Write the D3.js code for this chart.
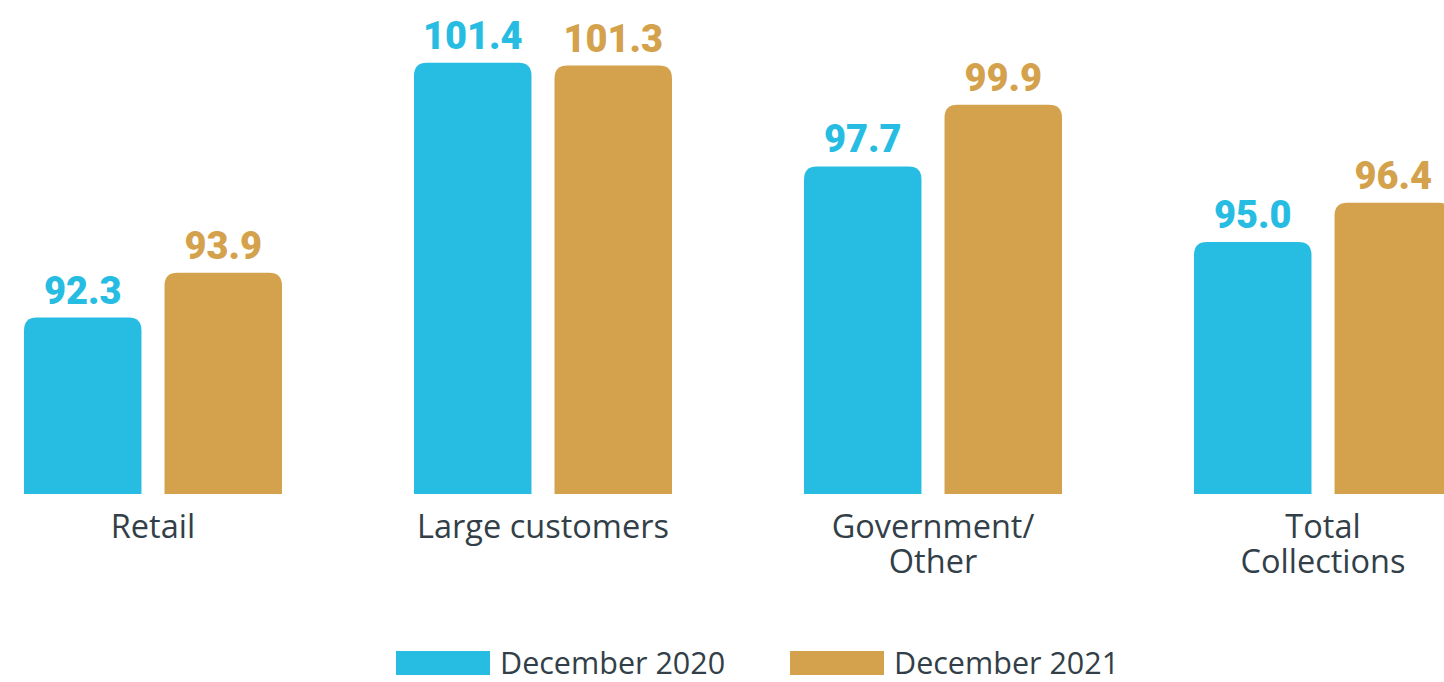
<!DOCTYPE html>
<html>
<head>
<meta charset="utf-8">
<script src="https://cdn.jsdelivr.net/npm/d3@7"></script>
<style>
  html, body { margin: 0; padding: 0; background: #ffffff; }
  svg { display: block; }
</style>
</head>
<body>
<svg id="chart" width="1444" height="682"></svg>
<script>
// Collection rates by customer segment (%)
const categories = ["Retail", "Large customers", "Government/\nOther", "Total\nCollections"];
const seriesNames = ["December 2020", "December 2021"];
const dec2020 = [92.3, 101.4, 97.7, 95.0];
const dec2021 = [93.9, 101.3, 99.9, 96.4];
const colors = ["#27bde2", "#d4a24c"];

const svg = d3.select("#chart");
const baseline = 494;

const rows = categories.map((c, i) => ({ category: c, values: [dec2020[i], dec2021[i]] }));

const x0 = d3.scaleBand().domain(categories).range([24, 1452]).paddingInner(0.3385).paddingOuter(0);
const x1 = d3.scaleBand().domain(seriesNames).range([0, x0.bandwidth()]).paddingInner(0.164);
const y = d3.scaleLinear().domain([86, 102]).range([baseline, baseline - 16 * 28]);

// bar with rounded top corners
function barPath(x, yTop, w, h, r) {
  r = Math.min(r, h, w / 2);
  return `M${x},${yTop + h}V${yTop + r}Q${x},${yTop} ${x + r},${yTop}H${x + w - r}Q${x + w},${yTop} ${x + w},${yTop + r}V${yTop + h}Z`;
}

const groups = svg.selectAll("g.group")
  .data(rows)
  .join("g")
  .attr("class", "group")
  .attr("transform", d => `translate(${x0(d.category)},0)`);

const items = groups.selectAll("g.item")
  .data(d => d.values.map((v, j) => ({ series: seriesNames[j], value: v, color: colors[j] })))
  .join("g")
  .attr("class", "item");

items.append("path")
  .attr("fill", d => d.color)
  .attr("d", d => barPath(x1(d.series), y(d.value), x1.bandwidth(), baseline - y(d.value), 13));

items.append("text")
  .attr("x", d => x1(d.series) + x1.bandwidth() / 2)
  .attr("y", d => y(d.value) - 14)
  .attr("text-anchor", "middle")
  .attr("fill", d => d.color)
  .style("font-family", "Roboto, 'Liberation Sans', sans-serif")
  .style("font-weight", "900")
  .style("font-size", "38px")
  .text(d => d.value.toFixed(1));

// category labels under each group, tightly stacked lines
groups.append("text")
  .attr("x", x0.bandwidth() / 2)
  .attr("y", 538)
  .attr("text-anchor", "middle")
  .attr("fill", "#333f48")
  .style("font-family", "'Open Sans', sans-serif")
  .style("font-size", "32.5px")
  .selectAll("tspan")
  .data(d => d.category.split("\n"))
  .join("tspan")
  .attr("x", x0.bandwidth() / 2)
  .attr("dy", (d, i) => i === 0 ? 0 : 35)
  .text(d => d);

// legend
const legendX = [396, 790];
const legend = svg.selectAll("g.legend")
  .data(seriesNames)
  .join("g")
  .attr("class", "legend")
  .attr("transform", (d, i) => `translate(${legendX[i]},651)`);

legend.append("rect")
  .attr("width", 94)
  .attr("height", 24)
  .attr("fill", (d, i) => colors[i]);

legend.append("text")
  .attr("x", 104)
  .attr("y", 23)
  .attr("fill", "#333f48")
  .style("font-family", "'Open Sans', sans-serif")
  .style("font-size", "30.5px")
  .text(d => d);
</script>
</body>
</html>
